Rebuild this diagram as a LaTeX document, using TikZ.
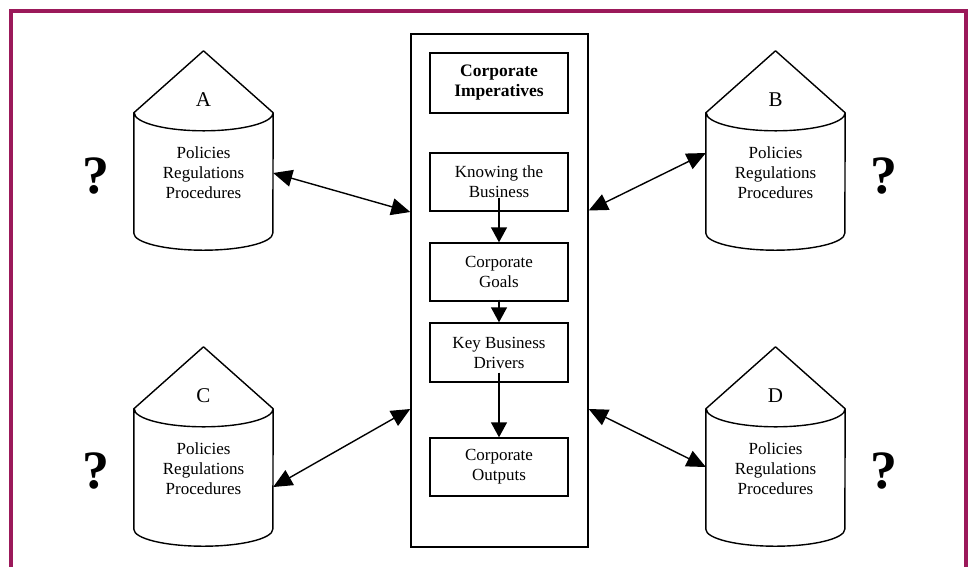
\documentclass[tikz,border=0pt]{standalone}
\usepackage{fontspec}
\setmainfont{Liberation Serif}
\usetikzlibrary{arrows.meta,calc}
\definecolor{framecol}{RGB}{155,25,90}
\newcommand\mysilo[4]{%
  \node[body] (#1) at (#2,#3) {Policies\\Regulations\\Procedures};
  \draw[siloline] (#1.north east) -- ($(#1.north)+(0,-62)$) -- (#1.north west) -- (#1.south west)
     arc[start angle=180, end angle=360, x radius=69.5pt, y radius=17pt] -- (#1.north east)
     arc[start angle=0, end angle=-180, x radius=69.5pt, y radius=18pt];
  \node[letter] (#1lbl) at ($(#1.north)+(0,-13)$) {#4};
}
\begin{document}
\begin{tikzpicture}[x=1pt,y=-1pt,
  txt/.style={font=\fontsize{17}{20}\selectfont, align=center},
  body/.style={minimum width=139pt, minimum height=120pt, inner sep=0pt, txt},
  siloline/.style={line width=1.4pt, line join=round},
  ibox/.style={draw, line width=1.4pt, minimum width=138pt, inner sep=0pt, txt},
  link/.style={line width=1.4pt, {Triangle[length=19pt,width=17pt]}-{Triangle[length=19pt,width=17pt]}},
  flow/.style={line width=1.4pt, -{Triangle[length=15pt,width=16pt]}},
  qm/.style={font=\fontsize{54}{54}\selectfont\bfseries, inner sep=0pt},
  letter/.style={font=\fontsize{21}{24}\selectfont, inner sep=0pt},
]
\useasboundingbox (0,0) rectangle (971,566);
\draw[framecol, line width=3.5pt] (11,570) -- (11,11) -- (966,11) -- (966,570);

\mysilo{A}{203.5}{173}{A}
\mysilo{B}{775.5}{173}{B}
\mysilo{C}{203.5}{469}{C}
\mysilo{D}{775.5}{469}{D}

\node[qm] (qa) at (96,176) {?};
\node[qm] (qb) at (884,176) {?};
\node[qm] (qc) at (96,471) {?};
\node[qm] (qd) at (884,471) {?};

\node[draw, line width=1.5pt, minimum width=177pt, minimum height=513pt, inner sep=0pt] (main) at (499.5,290.5) {};
\node[ibox, minimum height=60pt, font=\fontsize{17.5}{20}\selectfont\bfseries] (imp) at (499,83) {Corporate\\Imperatives};
\node[ibox, minimum height=58pt] (kb) at (499,182) {Knowing the\\Business};
\node[ibox, minimum height=58pt] (goals) at (499,272) {Corporate\\Goals};
\node[ibox, minimum height=59pt] (key) at (499,352.5) {Key Business\\Drivers};
\node[ibox, minimum height=58pt] (out) at (499,467) {Corporate\\Outputs};

\draw[flow] ($(kb.south)+(0,-14)$) -- (goals.north);
\draw[flow] ($(goals.south)+(0,-2)$) -- (key.north);
\draw[flow] ($(key.south)+(0,-10)$) -- (out.north);

\draw[link] (A.east) -- ($(main.west)+(0,-78.5)$);
\draw[link] ($(main.east)+(0,-80)$) -- ($(B.west)+(0,-20)$);
\draw[link] ($(C.east)+(0,18)$) -- ($(main.west)+(0,118.5)$);
\draw[link] ($(main.east)+(0,118.5)$) -- ($(D.west)+(0,-2)$);
\end{tikzpicture}
\end{document}
